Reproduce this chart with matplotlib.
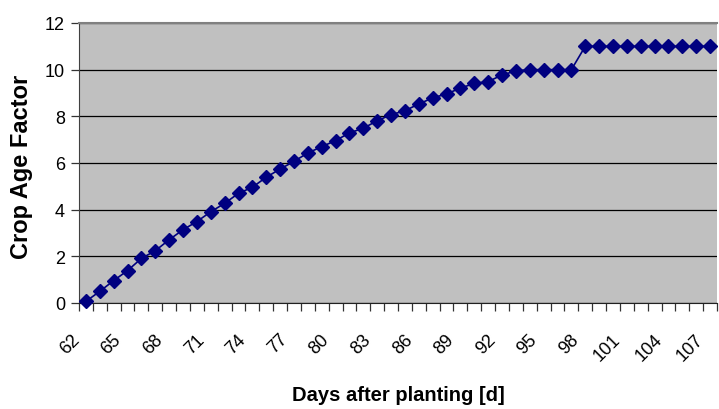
import matplotlib
matplotlib.use("Agg")
import matplotlib.pyplot as plt
import matplotlib.transforms as mtransforms
import numpy as np

days = list(range(62, 108))
crop_age_factor = [0.07, 0.5, 0.96, 1.39, 1.91, 2.24, 2.71, 3.14, 3.49, 3.91,
                   4.27, 4.7, 4.96, 5.39, 5.74, 6.07, 6.43, 6.7, 6.96, 7.29,
                   7.49, 7.81, 8.07, 8.24, 8.53, 8.79, 8.96, 9.21, 9.41, 9.49,
                   9.77, 9.95, 10.0, 10.0, 10.0, 10.0, 11.0, 11.0, 11.0, 11.0,
                   11.0, 11.0, 11.0, 11.0, 11.0, 11.0]
x_tick_labels = [str(d) for d in range(62, 108, 3)]
y_ticks = [0, 2, 4, 6, 8, 10, 12]

plt.rcParams['font.family'] = ['Liberation Sans', 'DejaVu Sans']

fig = plt.figure(figsize=(7.19, 4.10), dpi=100)
ax = fig.add_axes([79/719, 106/410, 638/719, 280/410])
ax.set_facecolor('#C0C0C0')

ax.plot(days, crop_age_factor, color='#000080', lw=1.2, marker='D', ms=7,
        mfc='#000080', mec='#000080', clip_on=False, zorder=3)

ax.set_xlim(61.5, 107.5)
ax.set_ylim(0, 12)
ax.set_yticks(y_ticks)
ax.set_yticklabels([str(v) for v in y_ticks], fontsize=13)
ax.yaxis.grid(True, color='black', lw=0.9)
ax.set_axisbelow(True)

# category edge ticks (minor) and labels at every third category (major)
ax.set_xticks(np.arange(61.5, 108.0, 1.0), minor=True)
major_pos = [d for d in days if (d - 62) % 3 == 0]
ax.set_xticks(major_pos)
ax.set_xticklabels(x_tick_labels, fontsize=13, rotation=45, ha='right',
                   va='center', rotation_mode='anchor')
ax.tick_params(axis='x', which='major', length=0, pad=24)
ax.tick_params(axis='x', which='minor', length=6, width=0.9, color='#333333', direction='out')
ax.tick_params(axis='y', length=6, width=0.9, color='#333333', direction='out', pad=4)
offset = mtransforms.ScaledTranslation(-9/100, 0, fig.dpi_scale_trans)
for lbl in ax.get_xticklabels():
    lbl.set_transform(lbl.get_transform() + offset)

ax.spines['top'].set_color('#808080')
ax.spines['top'].set_linewidth(1.5)
ax.spines['right'].set_visible(False)
ax.spines['left'].set_color('#404040')
ax.spines['bottom'].set_color('#202020')

ax.set_xlabel('Days after planting [d]', fontsize=14.5, fontweight='bold')
ax.xaxis.set_label_coords(0.5, (304 - 386) / 280)
ax.set_ylabel('Crop Age Factor', fontsize=17, fontweight='bold')
ax.yaxis.set_label_coords((33 - 79) / 638, (304 - 167) / 280)

fig.savefig('out.png', dpi=100)
